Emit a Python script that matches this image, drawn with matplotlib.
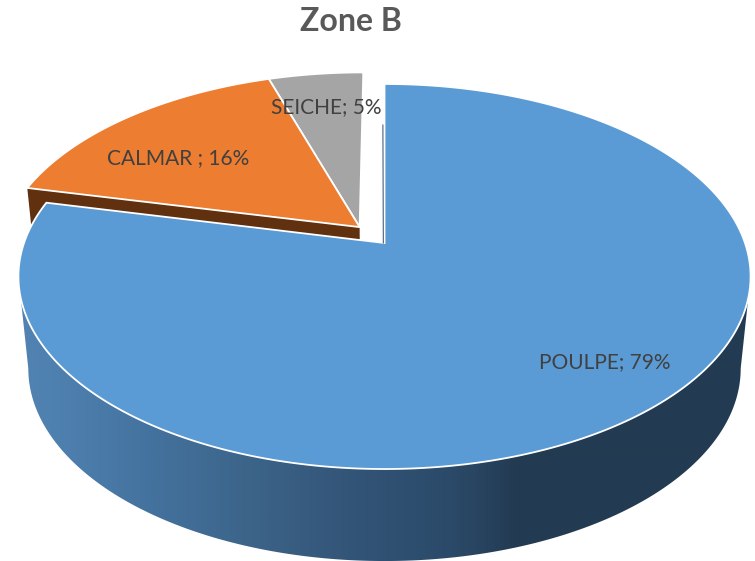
import numpy as np
import matplotlib
matplotlib.use("Agg")
import matplotlib.pyplot as plt
from matplotlib.colors import LinearSegmentedColormap
from matplotlib.patches import Polygon

title = "Zone B"
categories = ["POULPE", "CALMAR", "SEICHE"]
values = [78.6, 16.4, 5.0]
labels = ["POULPE; 79%", "CALMAR ; 16%", "SEICHE; 5%"]
label_xy = [(605, 362), (178, 158), (326, 107)]
top_colors = ["#5B9BD5", "#ED7D31", "#A5A5A5"]
cut_color = "#60300F"
wall_stops = [(0.0, "#5384B4"), (0.066, "#4F81B0"), (0.2, "#44729E"), (0.33, "#3C6489"),
              (0.46, "#335578"), (0.6, "#2B4A69"), (0.686, "#233B52"), (1.0, "#233C52")]

# projection of the pie plane to the canvas
CX, CY, RX, RY, K = 384.5, 243.0, 360.5, 186.7, 0.174
DEPTH, SHRINK = 92.0, 0.973
EXPLODE = {0: (0.0, 0.0), 1: (-0.07, 0.0865), 2: (-0.07, 0.0865)}


def project(x, y, bottom=False):
    w = 1 + K * y
    px, py = RX * x / w, -RY * y / w
    if bottom:
        return CX + px * SHRINK, CY + py + DEPTH
    return CX + px, CY + py


def rim(a0, a1, off, n=200):
    t = np.radians(np.linspace(a0, a1, n))
    return np.sin(t) + off[0], np.cos(t) + off[1]


fig = plt.figure(figsize=(7.55, 5.61), dpi=100, facecolor="white")
ax = fig.add_axes([0, 0, 1, 1])

total = sum(values)
edges = np.cumsum([0] + values) / total * 360
cmap = LinearSegmentedColormap.from_list("wall", wall_stops)

# blue outer wall: horizontal gradient clipped to the visible band
x, y = rim(100, 260, EXPLODE[0], 400)
tx, ty = project(x, y)
bx, by = project(x, y, bottom=True)
band = np.column_stack([np.r_[tx, bx[::-1]], np.r_[ty, by[::-1]]])
clip = Polygon(band, closed=True, transform=ax.transData, fc="none", ec="none")
ax.add_patch(clip)
im = ax.imshow(np.linspace(0, 1, 755)[None, :], cmap=cmap, vmin=0, vmax=1,
               extent=(0, 755, 561, 0), aspect="auto", zorder=1, interpolation="bilinear")
im.set_clip_path(clip)

# orange cut face (visible under the exploded slice)
off = EXPLODE[1]
x, y = rim(edges[1], edges[1], off, 2)
c0 = project(x[0], y[0])
c1 = project(off[0], off[1])
c0b = project(x[0], y[0], bottom=True)
c1b = project(off[0], off[1], bottom=True)
ax.add_patch(Polygon([c0, c1, c1b, c0b], closed=True, fc=cut_color, ec="none", zorder=2))

# tops: exploded slices first, then blue
for i in (2, 1, 0):
    off = EXPLODE[i]
    x, y = rim(edges[i], edges[i + 1], off, 300)
    px, py = project(x, y)
    ox, oy = project(off[0], off[1])
    pts = np.column_stack([np.r_[ox, px], np.r_[oy, py]])
    ax.add_patch(Polygon(pts, closed=True, fc=top_colors[i], ec="white", lw=1.3,
                         joinstyle="miter", zorder=3 + (2 - i)))

# thin dark sliver of the blue cut face
ax.plot([CX - 1.2, CX - 1.6], [243, 125], color="#2B4A68", lw=0.7, zorder=6)

for s, (lx, ly) in zip(labels, label_xy):
    ax.text(lx, ly, s, family="Lato", fontsize=15, color="#404040",
            ha="center", va="center", zorder=7)
ax.text(351, 21, title, family="Lato", fontsize=23, fontweight="bold", color="#595959",
        ha="center", va="center", zorder=7)

ax.set_xlim(0, 755)
ax.set_ylim(561, 0)
ax.axis("off")
fig.savefig("out.png", dpi=100, facecolor="white")
